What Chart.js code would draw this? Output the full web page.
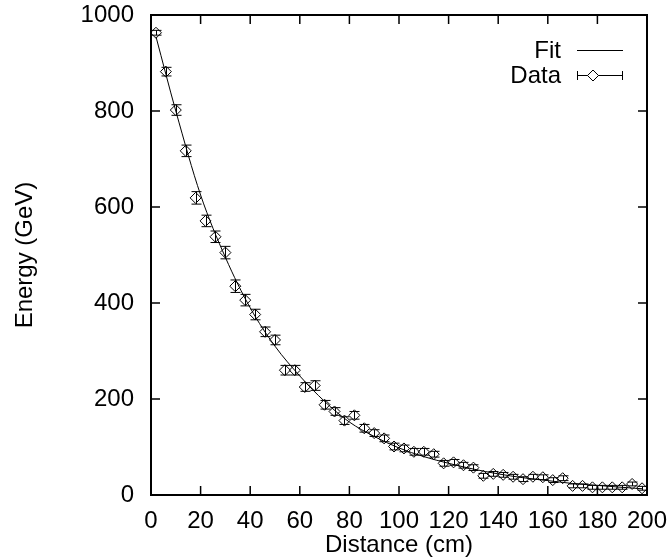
<!DOCTYPE html>
<html>
<head>
<meta charset="utf-8">
<script src="https://cdn.jsdelivr.net/npm/chart.js@4/dist/chart.umd.min.js"></script>
<style>
html,body{margin:0;padding:0;background:#ffffff;}
#wrap{width:670px;height:560px;}
</style>
</head>
<body>
<div id="wrap"><canvas id="c" width="670" height="560"></canvas></div>
<script>
// ---- data ----
const distances = [2,6,10,14,18,22,26,30,34,38,42,46,50,54,58,62,66,70,74,78,82,86,90,94,98,102,106,110,114,118,122,126,130,134,138,142,146,150,154,158,162,166,170,174,178,182,186,190,194,198];
const energies = [963,882,802,717,619,571,538,505,435,406,376,340,323,260,260,225,228,188,174,155,166,139,129,118,101,97,90,90,85,66,68,62,57,40,44,42,38,33,38,37,31,35,19,19,16,16,16,16,23,14];
const energyErrors = [5,9,11,12,13,12,12,13,13,12,11,10,10,10,10,9,10,9,8,8,8,8,7,7,7,7,7,7,6,6,6,6,6,5,5,5,5,5,5,5,5,5,4,4,4,4,4,4,4,4];
const fitDistances = [2,10,20,30,40,50,60,70,80,90,100,110,120,130,140,150,160,170,180,190,198];
const fitEnergies = [955,800,625,495,390,310,248,195,152,122,98,80,66,54,44,36,30,24,20,16,13];
const xTicks = [0,20,40,60,80,100,120,140,160,180,200];
const yTicks = [0,200,400,600,800,1000];
const legendLabels = ['Fit','Data'];
const xTitle = 'Distance (cm)';
const yTitle = 'Energy (GeV)';

const FONT = "'Liberation Sans', Arial, Helvetica, sans-serif";

const gnuplotFrame = {
  id: 'gnuplotFrame',
  beforeDatasetsDraw(chart) {
    const {ctx, scales:{x, y}} = chart;
    ctx.save();
    ctx.strokeStyle = '#000';
    ctx.lineWidth = 1;
    for (let i = 0; i < distances.length; i++) {
      const px = Math.round(x.getPixelForValue(distances[i])) + 0.5;
      const yt = y.getPixelForValue(energies[i] + energyErrors[i]);
      const yb = y.getPixelForValue(energies[i] - energyErrors[i]);
      ctx.beginPath();
      ctx.moveTo(px, yt); ctx.lineTo(px, yb);
      ctx.moveTo(px - 5, yt); ctx.lineTo(px + 5, yt);
      ctx.moveTo(px - 5, yb); ctx.lineTo(px + 5, yb);
      ctx.stroke();
    }
    ctx.restore();
  },
  afterDraw(chart) {
    const {ctx, chartArea:a, scales:{x, y}} = chart;
    ctx.save();
    ctx.strokeStyle = '#000';
    // ticks (inward, mirrored)
    ctx.lineWidth = 1.5;
    const tl = 9;
    ctx.beginPath();
    xTicks.forEach(v => {
      const px = x.getPixelForValue(v);
      ctx.moveTo(px, a.bottom); ctx.lineTo(px, a.bottom - tl);
      ctx.moveTo(px, a.top); ctx.lineTo(px, a.top + tl);
    });
    yTicks.forEach(v => {
      const py = y.getPixelForValue(v);
      ctx.moveTo(a.left, py); ctx.lineTo(a.left + tl, py);
      ctx.moveTo(a.right, py); ctx.lineTo(a.right - tl, py);
    });
    ctx.stroke();
    // border
    ctx.lineWidth = 2;
    ctx.strokeRect(a.left, a.top, a.right - a.left, a.bottom - a.top);

    // key (top right, inside)
    ctx.fillStyle = '#000';
    ctx.font = '24px ' + FONT;
    ctx.textAlign = 'right';
    ctx.textBaseline = 'middle';
    const tx = a.right - 86, sx0 = a.right - 70, sx1 = a.right - 24;
    const y1 = a.top + 35, y2 = a.top + 60;
    ctx.fillText(legendLabels[0], tx, y1 + 1);
    ctx.fillText(legendLabels[1], tx, y2 + 1);
    ctx.lineWidth = 1;
    ctx.beginPath();
    ctx.moveTo(sx0, y1 + 0.5); ctx.lineTo(sx1, y1 + 0.5);
    ctx.moveTo(sx0, y2 + 0.5); ctx.lineTo(sx1, y2 + 0.5);
    ctx.moveTo(sx0 + 0.5, y2 - 4); ctx.lineTo(sx0 + 0.5, y2 + 5);
    ctx.moveTo(sx1 - 0.5, y2 - 4); ctx.lineTo(sx1 - 0.5, y2 + 5);
    ctx.stroke();
    const dx = sx0 + 16, r = 5.5;
    ctx.fillStyle = '#fff';
    ctx.beginPath();
    ctx.moveTo(dx, y2 + 0.5 - r); ctx.lineTo(dx + r, y2 + 0.5); ctx.lineTo(dx, y2 + 0.5 + r); ctx.lineTo(dx - r, y2 + 0.5); ctx.closePath();
    ctx.fill(); ctx.stroke();
    ctx.restore();
  }
};

new Chart(document.getElementById('c'), {
  type: 'line',
  data: {
    datasets: [
      {
        label: legendLabels[0],
        data: fitDistances.map((d, i) => ({x: d, y: fitEnergies[i]})),
        borderColor: '#000',
        borderWidth: 1,
        pointRadius: 0,
        cubicInterpolationMode: 'monotone',
        fill: false
      },
      {
        label: legendLabels[1],
        data: distances.map((d, i) => ({x: d, y: energies[i]})),
        showLine: false,
        pointStyle: 'rectRot',
        pointRadius: 5.5,
        pointBorderWidth: 1,
        pointBorderColor: '#000',
        pointBackgroundColor: 'rgba(0,0,0,0)'
      }
    ]
  },
  options: {
    responsive: false,
    devicePixelRatio: 1,
    animation: false,
    layout: {padding: {left: 0, top: 15, right: 23, bottom: 0}},
    plugins: {legend: {display: false}, tooltip: {enabled: false}},
    scales: {
      x: {
        type: 'linear', min: 0, max: 200,
        grid: {display: false, drawTicks: false},
        border: {display: false},
        afterBuildTicks: s => { s.ticks = xTicks.map(v => ({value: v})); },
        afterFit: s => { s.height = 65; s.paddingLeft = 0; s.paddingRight = 0; },
        ticks: {color: '#000', font: {family: FONT, size: 24}, padding: 12, maxRotation: 0, autoSkip: false, callback: v => String(v)},
        title: {display: true, text: xTitle, color: '#000', font: {family: FONT, size: 24}, padding: {top: 0, bottom: 0}}
      },
      y: {
        type: 'linear', min: 0, max: 1000,
        grid: {display: false, drawTicks: false},
        border: {display: false},
        afterBuildTicks: s => { s.ticks = yTicks.map(v => ({value: v})); },
        afterFit: s => { s.width = 151; s.paddingTop = 0; s.paddingBottom = 0; },
        ticks: {color: '#000', font: {family: FONT, size: 24}, padding: 17, callback: v => String(v)},
        title: {display: true, text: yTitle, color: '#000', font: {family: FONT, size: 24}, padding: {top: 11, bottom: 0}}
      }
    }
  },
  plugins: [gnuplotFrame]
});
</script>
</body>
</html>
